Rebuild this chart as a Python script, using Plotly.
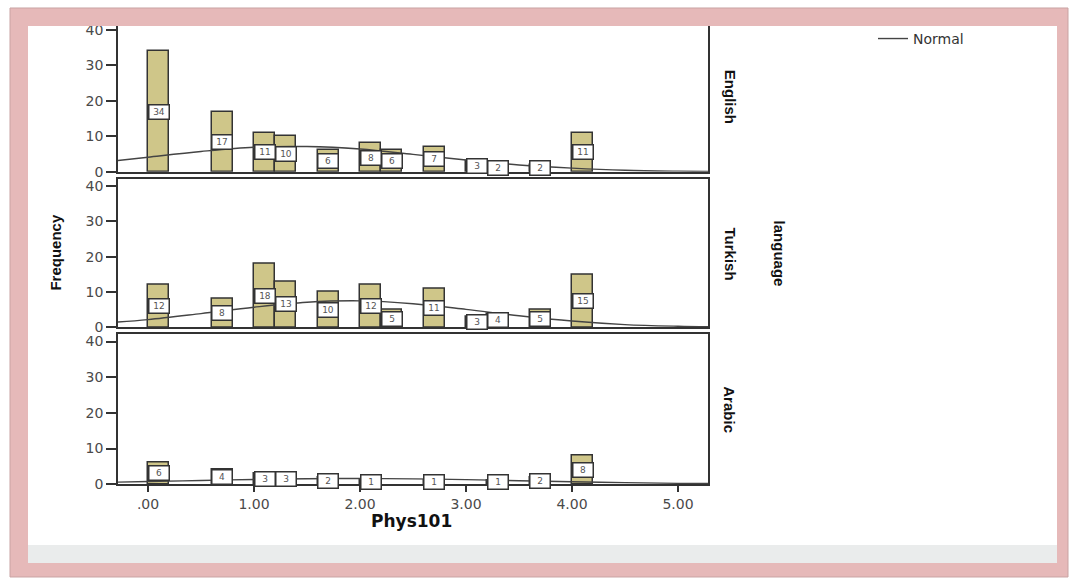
import plotly.graph_objects as go

# ---------------- data ----------------
bin_centers = [0.1, 0.7, 1.1, 1.3, 1.7, 2.1, 2.3, 2.7, 3.1, 3.3, 3.7, 4.1]
english = [34, 17, 11, 10, 6, 8, 6, 7, 3, 2, 2, 11]
turkish = [12, 8, 18, 13, 10, 12, 5, 11, 3, 4, 5, 15]
arabic = [6, 4, 3, 3, 2, 1, 0, 1, 0, 1, 2, 8]

curve_x = [-0.3, 0.0, 0.5, 1.0, 1.5, 2.0, 2.5, 3.0, 3.5, 4.0, 4.5, 5.0, 5.3]
english_curve = [3.1, 4.1, 5.7, 6.9, 7.1, 6.4, 4.9, 3.3, 1.9, 1.0, 0.4, 0.15, 0.08]
turkish_curve = [1.5, 2.2, 3.9, 5.7, 7.1, 7.5, 6.7, 5.1, 3.3, 1.8, 0.8, 0.33, 0.18]
arabic_curve = [0.56, 0.73, 1.03, 1.32, 1.52, 1.59, 1.49, 1.27, 0.97, 0.67, 0.42, 0.23, 0.16]

languages = ["English", "Turkish", "Arabic"]
x_tickvals = [0, 1, 2, 3, 4, 5]
x_ticktext = [".00", "1.00", "2.00", "3.00", "4.00", "5.00"]
y_tickvals = [0, 10, 20, 30, 40]

# ---------------- layout helpers ----------------
W, H = 1072, 581
H_EFF = 573.0   # effective vertical pixel scale observed in the rendered page
def px(x):
    return x / W
def py(y):
    return 1 - y / H_EFF

BAR_FILL = "#cfc689"
DARK = "#333333"
TICKCOL = "#4a4a4a"
ARIAL = "Arial, Liberation Sans, sans-serif"
DEJAVU = "DejaVu Sans, sans-serif"

panel_px = [(22, 171), (178, 327), (334, 484)]
yaxis_names = ["y", "y2", "y3"]
series = [english, turkish, arabic]
curves = [english_curve, turkish_curve, arabic_curve]

fig = go.Figure()
annotations = []

for i, (counts, curve) in enumerate(zip(series, curves)):
    xa = "x" if i == 0 else f"x{i+1}"
    ya = yaxis_names[i]
    bx = [c for c, v in zip(bin_centers, counts) if v > 0]
    by = [v for v in counts if v > 0]
    fig.add_trace(go.Bar(
        x=bx, y=by, width=0.2, xaxis=xa, yaxis=ya,
        marker=dict(color=BAR_FILL, line=dict(color=DARK, width=1.5)),
        showlegend=False, hoverinfo="skip"))
    fig.add_trace(go.Scatter(
        x=curve_x, y=curve, mode="lines", xaxis=xa, yaxis=ya,
        line=dict(color="#444444", width=1.4, shape="spline"),
        name="Normal", showlegend=(i == 0), hoverinfo="skip"))
    for c, v in zip(bx, by):
        annotations.append(dict(
            x=c, y=v / 2, xref=xa, yref=ya, text=str(v), showarrow=False,
            xanchor="center", yanchor="middle",
            font=dict(family=DEJAVU, size=9, color="#555555"),
            bgcolor="white", bordercolor=DARK, borderwidth=1.5,
            borderpad=1, width=17, height=11, align="center"))

axis_common_y = dict(range=[0, 42], tickvals=y_tickvals, ticks="outside",
                     ticklen=10, tickwidth=1.5, tickcolor=DARK,
                     showline=True, linecolor=DARK, linewidth=1.5, mirror=True,
                     showgrid=False, zeroline=False,
                     tickfont=dict(family=DEJAVU, size=14, color=TICKCOL))

layout = dict(
    width=W, height=H, margin=dict(l=0, r=0, t=0, b=0),
    paper_bgcolor="white", plot_bgcolor="white",
    barmode="overlay", bargap=0,
    legend=dict(x=px(873), y=py(38), xanchor="left", yanchor="middle",
                bgcolor="rgba(0,0,0,0)",
                font=dict(family=DEJAVU, size=14, color="#333333")),
)

for i, (top, bot) in enumerate(panel_px):
    xkey = "xaxis" if i == 0 else f"xaxis{i+1}"
    ykey = "yaxis" if i == 0 else f"yaxis{i+1}"
    yname = yaxis_names[i]
    bottom_panel = (i == 2)
    layout[xkey] = dict(
        domain=[px(118), px(708)], range=[-0.283, 5.283], anchor=yname,
        tickvals=x_tickvals, ticktext=x_ticktext,
        ticks="outside" if bottom_panel else "", ticklen=6, tickwidth=1.5,
        tickcolor=DARK, showticklabels=bottom_panel,
        showline=True, linecolor=DARK, linewidth=1.5, mirror=True,
        showgrid=False, zeroline=False,
        tickfont=dict(family=DEJAVU, size=14, color=TICKCOL))
    layout[ykey] = dict(domain=[py(bot), py(top)],
                        anchor=("x" if i == 0 else f"x{i+1}"), **axis_common_y)

fig.update_layout(**layout)

# facet labels and titles
def label(x, y, text, angle, family, size):
    return dict(x=px(x), y=py(y), xref="paper", yref="paper", text=text,
                textangle=angle, showarrow=False, xanchor="center",
                yanchor="middle", font=dict(family=family, size=size, color="#111111"))

facet_y = [96, 253, 409]
for lang, yc in zip(languages, facet_y):
    annotations.append(label(730, yc, f"<b>{lang}</b>", 90, ARIAL, 15))
annotations.append(label(779, 253, "<b>language</b>", 90, ARIAL, 15))
annotations.append(label(56, 252, "<b>Frequency</b>", -90, ARIAL, 15))
annotations.append(label(411, 521, "<b>Phys101</b>", 0, DEJAVU, 17))
fig.update_layout(annotations=annotations)

# pink frame and grey strip
PINK = "#e6b9b9"
shapes = []
def rect(x0, y0, x1, y1, color, line=None):
    return dict(type="rect", xref="paper", yref="paper",
                x0=px(x0), x1=px(x1), y0=py(y1), y1=py(y0),
                fillcolor=color, line=line or dict(width=0), layer="above")
shapes.append(rect(28, 545, 1057, 563, "#eaecec"))
shapes.append(rect(10, 7, 1068, 25, PINK))
shapes.append(rect(10, 7, 28, 577, PINK))
shapes.append(rect(1057, 7, 1068, 577, PINK))
shapes.append(rect(10, 563, 1068, 577, PINK))
shapes.append(dict(type="rect", xref="paper", yref="paper",
                   x0=px(10), x1=px(1068), y0=py(577), y1=py(7),
                   line=dict(color="#c9a3a3", width=1), layer="above"))
fig.update_layout(shapes=shapes)

fig.write_html("out.html")
